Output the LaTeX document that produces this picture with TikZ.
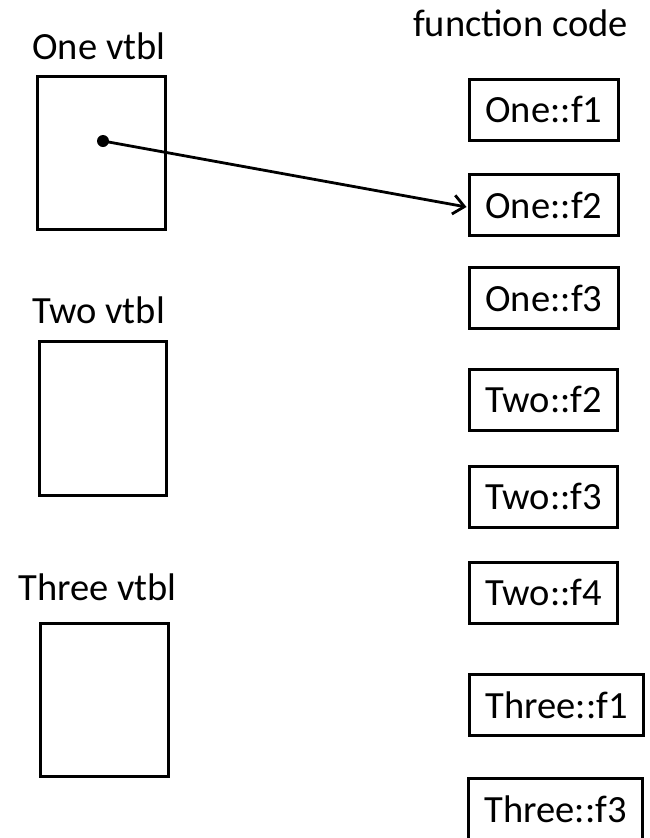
\documentclass[tikz,border=0pt]{standalone}
\usepackage{fontspec}
\setmainfont{Carlito}
\usetikzlibrary{arrows.meta}
\begin{document}
\begin{tikzpicture}[x=1pt,y=-1pt,
  every node/.style={font=\fontsize{38.5}{44}\selectfont, outer sep=0pt},
  fbox/.style={draw, line width=3pt, anchor=west, inner xsep=16pt, inner ysep=0pt, minimum height=61pt},
  vbox/.style={draw, line width=3pt, minimum width=127.5pt, minimum height=153.5pt, inner sep=0pt},
  lbl/.style={anchor=base, inner sep=0pt},
  ptr/.style={line width=2.8pt, -{Straight Barb[length=11pt,width=19pt,line width=2.8pt]}}
]
\useasboundingbox (0,0) rectangle (650,838);
\clip (0,0) rectangle (650,838);
% labels
\node[lbl] (fc) at (520.5,36) {function code};
\node[lbl] (l1) at (99,59) {One vtbl};
\node[lbl] (l2) at (98.5,323) {Two vtbl};
\node[lbl] (l3) at (97.5,600) {Three vtbl};
% vtbl boxes
\node[vbox] (v1) at (101.7,153) {};
\node[vbox] (v2) at (103,418.5) {};
\node[vbox] (v3) at (104.5,700) {};
% function boxes
\node[fbox] (f1) at (469.5,109.5) {One::f1};
\node[fbox] (f2) at (469.5,205) {One::f2};
\node[fbox] (f3) at (469.5,298) {One::f3};
\node[fbox] (f4) at (469.5,399.5) {Two::f2};
\node[fbox] (f5) at (469.5,496.5) {Two::f3};
\node[fbox] (f6) at (469.5,592.5) {Two::f4};
\node[fbox] (f7) at (469.5,705) {Three::f1};
\node[fbox] (f8) at (468.5,809) {Three::f3};
% pointer
\coordinate (dot) at (103,141);
\fill (dot) circle (6pt);
\draw[ptr] (dot) -- ([yshift=-2pt,xshift=-3pt]f2.west);
\end{tikzpicture}
\end{document}
